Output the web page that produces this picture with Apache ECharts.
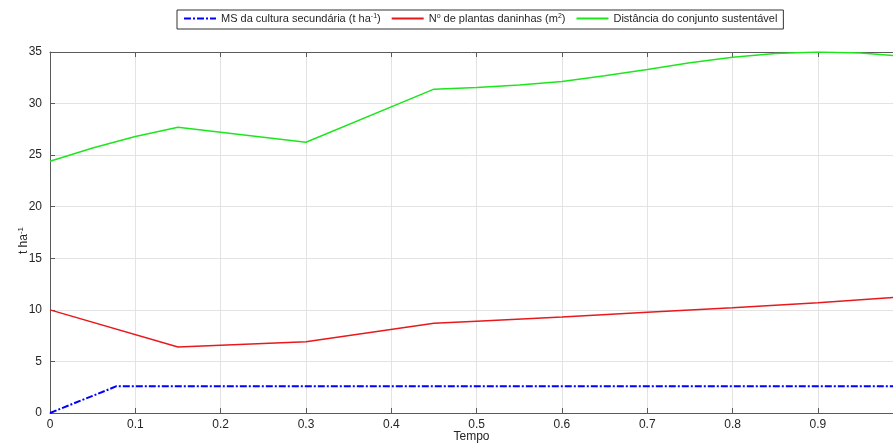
<!DOCTYPE html>
<html>
<head>
<meta charset="utf-8">
<script src="https://cdn.jsdelivr.net/npm/echarts@6/dist/echarts.min.js"></script>
<style>html,body{margin:0;padding:0;background:#fff}#c{width:893px;height:445px}</style>
</head>
<body>
<div id="c"></div>
<script>
// Series names
const seriesNames = ['MS da cultura secundária (t ha-1)', 'No de plantas daninhas (m2)', 'Distância do conjunto sustentável'];
// MS da cultura secundária (blue)
const msX = [0, 0.078, 0.988];
const msY = [0, 2.6, 2.6];
// Nº de plantas daninhas (red)
const redX = [0, 0.15, 0.3, 0.45, 0.5, 0.6, 0.7, 0.8, 0.9, 0.988];
const redY = [10, 6.4, 6.9, 8.7, 8.9, 9.3, 9.77, 10.2, 10.7, 11.2];
// Distância do conjunto sustentável (green)
const greenX = [0, 0.05, 0.1, 0.15, 0.3, 0.45, 0.5, 0.55, 0.6, 0.65, 0.7, 0.75, 0.8, 0.85, 0.9, 0.95, 0.988];
const greenY = [24.4, 25.7, 26.8, 27.7, 26.25, 31.4, 31.55, 31.8, 32.15, 32.7, 33.3, 33.95, 34.5, 34.85, 35.0, 34.9, 34.65];
// Axis ticks
const xTicks = [0, 0.1, 0.2, 0.3, 0.4, 0.5, 0.6, 0.7, 0.8, 0.9];
const yTicks = [0, 5, 10, 15, 20, 25, 30, 35];

const pairs = (xs, ys) => xs.map((x, i) => [x, ys[i]]);
const font = 'Liberation Sans, Arial, Helvetica, sans-serif';
const txt = '#262626';
const axisCol = '#5a5a5a';

const legendLabels = {};
legendLabels[seriesNames[0]] = 'MS da cultura secundária (t ha{sup|-1})';
legendLabels[seriesNames[1]] = 'N{sup|o} de plantas daninhas (m{sup|2})';
legendLabels[seriesNames[2]] = 'Distância do conjunto sustentável';

const chart = echarts.init(document.getElementById('c'), null, {renderer: 'canvas'});
chart.setOption({
  animation: false,
  textStyle: {fontFamily: font},
  legend: {
    top: 10, left: 177,
    data: seriesNames,
    orient: 'horizontal',
    borderColor: '#333', borderWidth: 1, borderRadius: 0,
    padding: [3, 6, 3, 6],
    itemGap: 10, itemWidth: 32, itemHeight: 10,
    itemStyle: {opacity: 0},
    formatter: n => legendLabels[n],
    textStyle: {fontFamily: font, fontSize: 11, color: txt,
      rich: {sup: {fontSize: 7, verticalAlign: 'top', lineHeight: 10, padding: [0, 0, 6, 0], fontFamily: font, color: txt}}}
  },
  grid: {left: 50, right: 0, top: 52, bottom: 32, containLabel: false, outerBoundsMode: 'none'},
  xAxis: [{
    type: 'value', min: 0, max: 0.988, interval: 0.1,
    name: 'Tempo', nameLocation: 'middle', nameGap: 18, nameMoveOverlap: false,
    nameTextStyle: {fontFamily: font, fontSize: 12, color: txt, verticalAlign: 'top'},
    axisLine: {show: true, lineStyle: {color: axisCol, width: 1}},
    axisTick: {show: true, inside: true, length: 5, lineStyle: {color: axisCol}},
    axisLabel: {fontFamily: font, fontSize: 12, color: txt, margin: 6, showMaxLabel: false,
      formatter: v => (Math.round(v * 10) / 10).toString()},
    splitLine: {show: true, lineStyle: {color: '#e3e3e3', width: 1}}
  }, {
    type: 'value', position: 'top', min: 0, max: 0.988, interval: 0.1,
    axisLine: {show: true, lineStyle: {color: axisCol, width: 1}},
    axisTick: {show: true, inside: true, length: 5, lineStyle: {color: axisCol}},
    axisLabel: {show: false}, splitLine: {show: false}
  }],
  yAxis: {
    type: 'value', min: 0, max: 35, interval: 5,
    name: 't ha{sup|-1}', nameLocation: 'middle', nameGap: 19, nameRotate: 90, nameMoveOverlap: false,
    nameTextStyle: {fontFamily: font, fontSize: 12, color: txt, padding: [0, 16, 0, 0],
      rich: {sup: {fontSize: 8, verticalAlign: 'top', padding: [0, 0, 6, 0], fontFamily: font, color: txt}}},
    axisLine: {show: true, lineStyle: {color: axisCol, width: 1}},
    axisTick: {show: true, inside: true, length: 5, lineStyle: {color: axisCol}},
    axisLabel: {fontFamily: font, fontSize: 12, color: txt, margin: 8},
    splitLine: {show: true, lineStyle: {color: '#e3e3e3', width: 1}}
  },
  series: [
    {name: seriesNames[0], type: 'line', data: pairs(msX, msY), symbol: 'none', z: 5,
      lineStyle: {color: '#0000ff', width: 2, type: [7, 2, 2, 2]}, itemStyle: {color: '#0000ff'}},
    {name: seriesNames[1], type: 'line', data: pairs(redX, redY), symbol: 'none', z: 4,
      lineStyle: {color: '#e8191d', width: 1.5}, itemStyle: {color: '#e8191d'}},
    {name: seriesNames[2], type: 'line', data: pairs(greenX, greenY), symbol: 'none', z: 3,
      lineStyle: {color: '#1ee61e', width: 1.5}, itemStyle: {color: '#1ee61e'}}
  ]
});
</script>
</body>
</html>
